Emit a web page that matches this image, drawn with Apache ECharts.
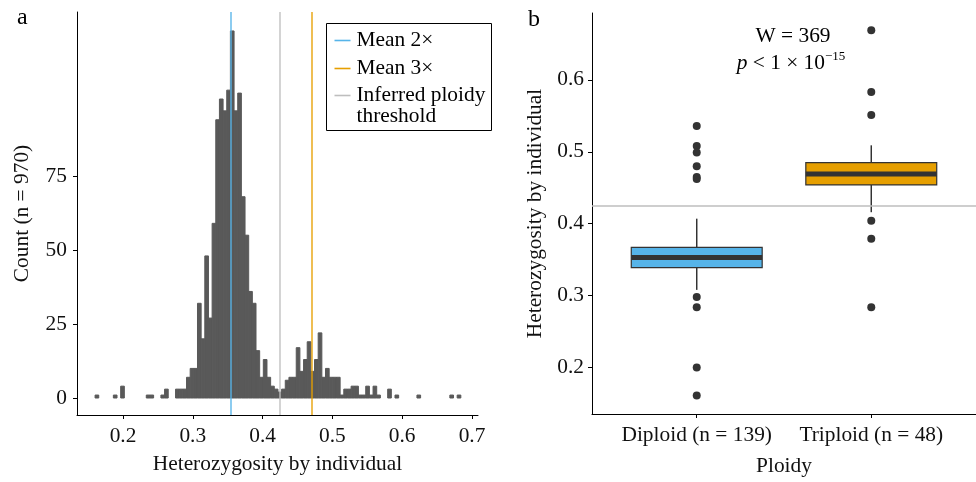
<!DOCTYPE html>
<html>
<head>
<meta charset="utf-8">
<script src="https://cdn.jsdelivr.net/npm/echarts@6/dist/echarts.min.js"></script>
<style>
  html, body { margin: 0; padding: 0; background: #fff; }
  #chart { width: 976px; height: 482px; }
</style>
</head>
<body>
<div id="chart"></div>
<script>
// histogram: 100 bins of heterozygosity per individual
const binStart = 0.160;
const binWidth = 0.00524;
const binCounts = [
  1, 0, 0, 0, 0, 1, 0, 4, 0, 0,
  0, 0, 0, 0, 1, 1, 0, 0, 1, 3,
  0, 0, 3, 3, 3, 7, 10, 10, 32, 20,
  48, 27, 59, 94, 101, 97, 104, 124, 97, 103,
  68, 55, 36, 32, 16, 7, 13, 7, 4, 3,
  2, 3, 6, 7, 7, 17, 9, 13, 19, 9,
  13, 22, 7, 10, 7, 7, 7, 1, 3, 3,
  4, 4, 1, 1, 4, 1, 4, 1, 0, 0,
  3, 0, 1, 0, 0, 0, 0, 0, 1, 0,
  0, 0, 0, 0, 0, 0, 0, 1, 0, 1
];
const countTicks = [0, 25, 50, 75];
const hetTicks = [0.2, 0.3, 0.4, 0.5, 0.6, 0.7];

const meanDiploid = 0.355;
const meanTriploid = 0.471;
const ploidyThreshold = 0.425;
const lineNames = ['Mean 2×', 'Mean 3×', 'Inferred ploidy threshold'];

// boxplot: [lower whisker, Q1, median, Q3, upper whisker]
const ploidyGroups = ['Diploid (n = 139)', 'Triploid (n = 48)'];
const boxStats = [
  [0.308, 0.339, 0.353, 0.367, 0.407],
  [0.416, 0.454, 0.469, 0.485, 0.509]
];
const diploidOutliers = [0.536, 0.508, 0.499, 0.480, 0.465, 0.462, 0.298, 0.284, 0.200, 0.161];
const triploidOutliers = [0.669, 0.583, 0.551, 0.404, 0.379, 0.284];
const boxTicks = [0.2, 0.3, 0.4, 0.5, 0.6];

const FONT = 'Liberation Serif';
const BLUE = '#56B4E9', ORANGE = '#E69F00', GREY = '#BEBEBE', DARK = '#333333';
const FS = 21.4;

const histData = binCounts
  .map((c, k) => [binStart + k * binWidth, binStart + (k + 1) * binWidth, c])
  .filter(d => d[2] > 0);

const boxData = boxStats.map((s, i) => [i + 1].concat(s));
const outlierData = diploidOutliers.map(v => [1, v]).concat(triploidOutliers.map(v => [2, v]));

const axisText = { fontFamily: FONT, fontSize: FS, color: '#111' };
const axisLine = { show: true, onZero: false, lineStyle: { color: '#000', width: 1 } };
const axisTick = { show: true, length: 4, lineStyle: { color: '#000', width: 1 } };

function vline(name, value, color) {
  return {
    name: name, type: 'line', xAxisIndex: 0, yAxisIndex: 0, data: [], z: 5,
    markLine: {
      silent: true, symbol: 'none', animation: false, precision: 4,
      label: { show: false },
      lineStyle: { color: color, width: 1.6, type: 'solid', opacity: 0.85 },
      data: [{ xAxis: value }]
    }
  };
}

const chart = echarts.init(document.getElementById('chart'));
chart.setOption({
  animation: false,
  backgroundColor: '#fff',
  grid: [
    { left: 77, top: 12, right: 498, bottom: 67 },
    { left: 592, top: 13, right: -12, bottom: 66 }
  ],
  xAxis: [
    {
      gridIndex: 0, type: 'value', min: 0.1341, max: 0.7086,
      name: 'Heterozygosity by individual', nameLocation: 'middle', nameGap: 39,
      nameTextStyle: axisText,
      axisLine: axisLine, axisTick: Object.assign({ customValues: hetTicks }, axisTick),
      axisLabel: Object.assign({ customValues: hetTicks, margin: 11, formatter: v => v.toFixed(1) }, axisText),
      splitLine: { show: false }
    },
    {
      gridIndex: 1, type: 'value', min: 0.4, max: 2.6,
      name: 'Ploidy', nameLocation: 'middle', nameGap: 42,
      nameTextStyle: axisText,
      axisLine: axisLine, axisTick: Object.assign({ customValues: [1, 2] }, axisTick),
      axisLabel: Object.assign({ customValues: [1, 2], margin: 11, formatter: v => ploidyGroups[Math.round(v) - 1] }, axisText),
      splitLine: { show: false }
    }
  ],
  yAxis: [
    {
      gridIndex: 0, type: 'value', min: -5.74, max: 130.4,
      name: 'Count (n = 970)', nameLocation: 'middle', nameGap: 44,
      nameTextStyle: axisText,
      axisLine: axisLine, axisTick: Object.assign({ customValues: countTicks }, axisTick),
      axisLabel: Object.assign({ customValues: countTicks, margin: 10 }, axisText),
      splitLine: { show: false }
    },
    {
      gridIndex: 1, type: 'value', min: 0.1354, max: 0.693,
      name: 'Heterozygosity by individual', nameLocation: 'middle', nameGap: 46,
      nameTextStyle: axisText,
      axisLine: axisLine, axisTick: Object.assign({ customValues: boxTicks }, axisTick),
      axisLabel: Object.assign({ customValues: boxTicks, margin: 8, formatter: v => v.toFixed(1) }, axisText),
      splitLine: { show: false }
    }
  ],
  series: [
    {
      name: 'histogram', type: 'custom', xAxisIndex: 0, yAxisIndex: 0, z: 2,
      data: histData,
      encode: { x: [0, 1], y: 2 },
      renderItem: function (params, api) {
        const p0 = api.coord([api.value(0), api.value(2)]);
        const p1 = api.coord([api.value(1), 0]);
        return {
          type: 'rect',
          shape: { x: p0[0], y: p0[1], width: p1[0] - p0[0], height: p1[1] - p0[1] },
          style: { fill: '#595959', stroke: '#595959', lineWidth: 1 }
        };
      }
    },
    vline(lineNames[0], meanDiploid, BLUE),
    vline(lineNames[2], ploidyThreshold, GREY),
    vline(lineNames[1], meanTriploid, ORANGE),
    {
      name: 'threshold b', type: 'line', xAxisIndex: 1, yAxisIndex: 1, data: [], z: 1,
      markLine: {
        silent: true, symbol: 'none', animation: false, precision: 4, label: { show: false },
        lineStyle: { color: GREY, width: 1.6, type: 'solid' },
        data: [{ yAxis: ploidyThreshold }]
      }
    },
    {
      name: 'boxes', type: 'custom', xAxisIndex: 1, yAxisIndex: 1, z: 3,
      data: boxData,
      encode: { x: 0, y: [1, 2, 3, 4, 5] },
      renderItem: function (params, api) {
        const x = api.value(0);
        const lo = api.coord([x, api.value(1)]);
        const q1 = api.coord([x, api.value(2)]);
        const md = api.coord([x, api.value(3)]);
        const q3 = api.coord([x, api.value(4)]);
        const hi = api.coord([x, api.value(5)]);
        const half = api.size([0.75, 0])[0] / 2;
        const fill = params.dataIndex === 0 ? BLUE : ORANGE;
        const stroke = { stroke: DARK, lineWidth: 1.5 };
        return {
          type: 'group',
          children: [
            { type: 'line', shape: { x1: lo[0], y1: lo[1], x2: q1[0], y2: q1[1] }, style: stroke },
            { type: 'line', shape: { x1: q3[0], y1: q3[1], x2: hi[0], y2: hi[1] }, style: stroke },
            { type: 'rect', shape: { x: q3[0] - half, y: q3[1], width: half * 2, height: q1[1] - q3[1] },
              style: { fill: fill, stroke: DARK, lineWidth: 1.2 } },
            { type: 'line', shape: { x1: md[0] - half, y1: md[1], x2: md[0] + half, y2: md[1] },
              style: { stroke: DARK, lineWidth: 5 } }
          ]
        };
      }
    },
    {
      name: 'outliers', type: 'scatter', xAxisIndex: 1, yAxisIndex: 1, z: 4,
      data: outlierData, symbol: 'circle', symbolSize: 8,
      itemStyle: { color: DARK, opacity: 1 }
    }
  ],
  graphic: [
    { type: 'text', left: 17, top: 6, style: { text: 'a', font: '24px ' + FONT, fill: '#000' } },
    { type: 'text', left: 528, top: 8, style: { text: 'b', font: '24px ' + FONT, fill: '#000' } },
    // legend box
    {
      type: 'group', left: 326, top: 23,
      children: [
        { type: 'rect', shape: { x: 0, y: 0, width: 165, height: 107 }, style: { fill: '#fff', stroke: '#000', lineWidth: 1 } },
        { type: 'line', shape: { x1: 8, y1: 17, x2: 24, y2: 17 }, style: { stroke: BLUE, lineWidth: 1.6 } },
        { type: 'line', shape: { x1: 8, y1: 45, x2: 24, y2: 45 }, style: { stroke: ORANGE, lineWidth: 1.6 } },
        { type: 'line', shape: { x1: 8, y1: 72, x2: 24, y2: 72 }, style: { stroke: GREY, lineWidth: 1.6 } },
        { type: 'text', x: 30, y: 17, style: { text: lineNames[0], font: FS + 'px ' + FONT, fill: '#000', verticalAlign: 'middle' } },
        { type: 'text', x: 30, y: 45, style: { text: lineNames[1], font: FS + 'px ' + FONT, fill: '#000', verticalAlign: 'middle' } },
        { type: 'text', x: 30, y: 72, style: { text: 'Inferred ploidy', font: FS + 'px ' + FONT, fill: '#000', verticalAlign: 'middle' } },
        { type: 'text', x: 30, y: 93, style: { text: 'threshold', font: FS + 'px ' + FONT, fill: '#000', verticalAlign: 'middle' } }
      ]
    },
    // Wilcoxon test annotation
    { type: 'text', x: 793, y: 36, style: { text: 'W = 369', font: FS + 'px ' + FONT, fill: '#000', align: 'center', verticalAlign: 'middle' } },
    {
      type: 'text', x: 825, y: 63,
      style: {
        text: '{i|p} < 1 × 10', align: 'right', verticalAlign: 'middle',
        font: FS + 'px ' + FONT, fill: '#000',
        rich: { i: { fontStyle: 'italic', fontFamily: FONT, fontSize: FS } }
      }
    },
    { type: 'text', x: 825, y: 57, style: { text: '−15', font: '13px ' + FONT, fill: '#000', align: 'left', verticalAlign: 'middle' } }
  ]
});
</script>
</body>
</html>
